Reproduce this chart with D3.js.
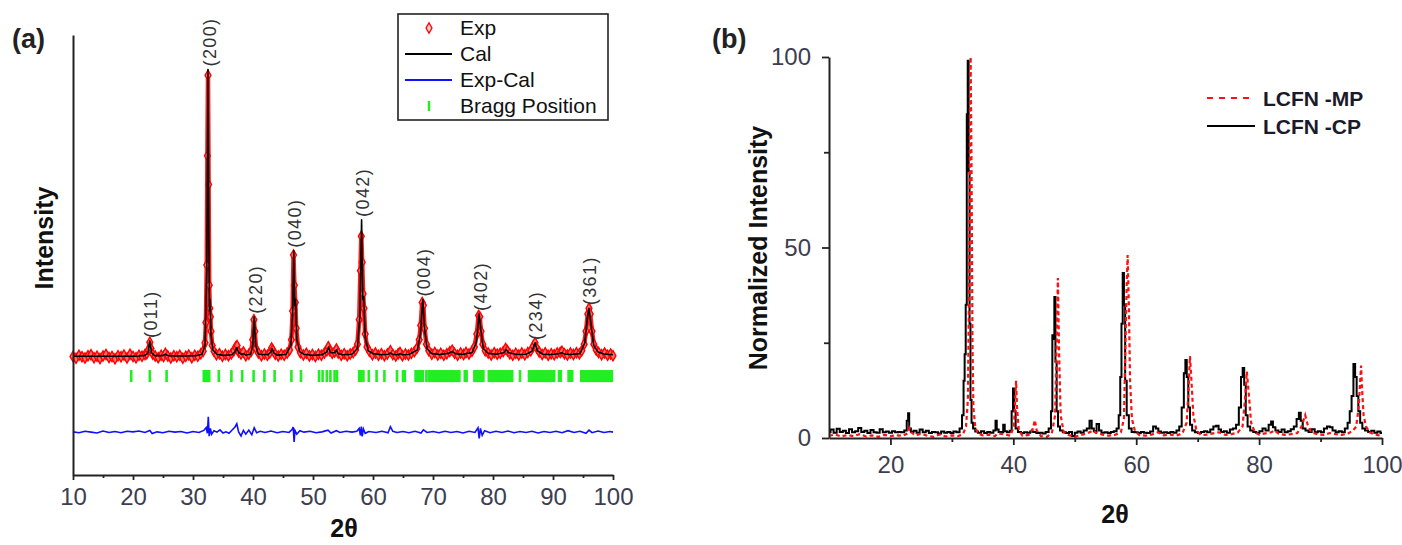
<!DOCTYPE html>
<html><head><meta charset="utf-8">
<script src="https://cdn.jsdelivr.net/npm/d3@7/dist/d3.min.js"></script>
<style>
html,body{margin:0;padding:0;background:#fff;}
svg{display:block;font-family:"Liberation Sans",Arial,sans-serif;}
</style></head>
<body>
<svg id="chart" width="1402" height="545"></svg>
<script>
// ---------- Panel (a): Rietveld refinement ----------
const calPts = [[10,0.3],[11,0.3],[12,0.3],[13,0.3],[14,0.3],[15,0.3],[16,0.3],[17,0.3],[18,0.3],[19,0.3],[20,0.3],[21,0.4],[22,0.6],[22.5,1.5],[22.8,5.6],[23.1,1.5],[23.6,0.5],[25,0.5],[25.4,1],[25.8,0.5],[27,0.4],[29,0.4],[30.5,0.5],[31.5,1],[32.0,4],[32.3,30],[32.5,100],[32.65,40],[32.75,16],[32.85,20],[33.0,8],[33.3,2.5],[34,1],[35,0.6],[36.5,0.8],[37.0,1.8],[37.3,3.3],[37.6,1.6],[38.1,0.9],[38.4,1.2],[38.8,0.7],[39.6,1],[39.95,4],[40.2,14],[40.45,4],[40.9,1],[42.5,0.8],[43.0,1.8],[43.2,3],[43.45,1.5],[44,0.7],[45.5,0.9],[46.3,4],[46.6,15],[46.8,37],[46.95,18],[47.1,20],[47.3,6],[47.8,1.8],[48.5,1],[50,0.6],[51.5,0.8],[52.3,1.8],[52.6,3.5],[52.9,1.5],[53.6,1.5],[53.9,2.5],[54.2,1.2],[55,0.8],[56.5,1],[57.4,3],[57.8,14],[58.1,47.7],[58.3,20],[58.45,21],[58.7,7],[59.2,2.2],[60,1.2],[61.5,0.8],[62.6,1],[62.9,1.5],[63.3,0.9],[64.2,0.8],[64.5,1.2],[64.9,0.8],[66,0.9],[67.4,2.5],[67.9,8],[68.3,20],[68.6,10],[69,3],[69.7,1.3],[71,0.9],[72.6,1.3],[73.2,2],[73.7,1.2],[75,0.9],[75.5,1.2],[76.5,1.5],[77.2,5],[77.7,15],[78.0,9],[78.4,3],[79.2,1.3],[80.5,1],[81.8,1.5],[82.2,2.6],[82.6,1.5],[84,0.9],[85.5,1],[86.5,2],[87.0,5],[87.4,2.2],[88.3,1],[90,0.9],[91.2,1.3],[91.5,1.5],[91.9,1.1],[93,0.9],[94.5,1.2],[95.3,5],[95.7,13],[96.0,17],[96.3,12],[96.8,4],[97.5,1.8],[98.5,1.1],[100,0.8]];

const expPts = [[10,0.2],[10.5,-0.4],[11,0.6],[11.5,0.1],[12,-0.3],[12.5,0.5],[13,0.8],[13.5,-0.2],[14,0.3],[14.5,-0.5],[15,0.4],[15.5,0.9],[16,-0.1],[16.5,0.2],[17,-0.6],[17.5,0.5],[18,0.1],[18.5,0.7],[19,-0.3],[19.5,1.0],[20,0.2],[20.5,-0.2],[21,0.6],[21.5,0.3],[22,0.9],[22.3,1.2],[22.55,2.5],[22.8,5.2],[23.0,3],[23.3,1.0],[23.7,0.4],[24.2,-0.2],[24.7,0.6],[25.1,0.2],[25.4,1.3],[25.8,0.4],[26.3,-0.3],[26.8,0.5],[27.3,0.1],[27.8,0.6],[28.3,-0.4],[28.8,0.3],[29.3,0.7],[29.8,-0.2],[30.3,0.6],[30.8,0.3],[31.3,1.2],[31.7,2],[32.0,5],[32.15,12],[32.3,32],[32.4,70],[32.5,98],[32.6,60],[32.7,25],[32.8,17],[32.9,14],[33.0,9],[33.2,4],[33.5,2],[33.9,0.8],[34.4,1.2],[34.9,0.3],[35.4,0.9],[35.9,0.5],[36.4,1.2],[36.8,2.2],[37.1,3.5],[37.35,4.0],[37.6,1.8],[38.0,1.1],[38.4,1.8],[38.8,0.5],[39.3,1.0],[39.7,2.0],[39.95,6],[40.15,13],[40.3,9],[40.5,3],[40.9,1.4],[41.4,0.5],[41.9,1.1],[42.4,0.6],[42.8,1.4],[43.1,3.2],[43.3,2.5],[43.7,1.0],[44.2,0.4],[44.7,1.0],[45.2,0.6],[45.7,1.4],[46.1,2.5],[46.4,6],[46.6,16],[46.75,35.5],[46.9,25],[47.05,19],[47.2,10],[47.5,3.5],[47.9,1.5],[48.4,0.7],[48.9,1.3],[49.4,0.4],[49.9,0.9],[50.4,0.2],[50.9,1.0],[51.4,0.6],[51.9,1.4],[52.3,2.2],[52.55,3.6],[52.8,2.2],[53.2,1.3],[53.6,1.8],[53.9,2.8],[54.2,1.4],[54.7,0.6],[55.2,1.2],[55.7,0.5],[56.2,1.1],[56.7,1.6],[57.1,2.5],[57.4,4.5],[57.7,13],[57.9,30],[58.05,42],[58.2,33],[58.35,22],[58.5,17],[58.7,8],[59.0,3.5],[59.4,2],[59.9,0.8],[60.4,1.4],[60.9,0.6],[61.4,1.2],[61.9,0.5],[62.4,1.1],[62.9,2.2],[63.3,0.9],[63.8,0.4],[64.2,1.2],[64.5,1.6],[64.9,0.5],[65.4,1.1],[65.9,0.7],[66.4,1.3],[66.9,1.9],[67.3,3],[67.7,6],[67.95,11],[68.2,19],[68.4,18],[68.6,10],[68.9,4.5],[69.3,2.2],[69.8,1.0],[70.3,1.6],[70.8,0.7],[71.3,1.3],[71.8,0.6],[72.3,1.2],[72.8,1.9],[73.2,2.4],[73.6,1.3],[74.1,0.6],[74.6,1.4],[75.1,0.9],[75.5,1.6],[76.0,1.1],[76.5,2],[76.9,3.5],[77.3,8],[77.6,14.5],[77.8,14],[78.0,9],[78.3,4.5],[78.7,2.2],[79.2,1.4],[79.7,0.7],[80.2,1.5],[80.7,1],[81.2,1.3],[81.7,1.9],[82.1,3],[82.4,2.2],[82.8,1.2],[83.3,0.6],[83.8,1.3],[84.3,0.7],[84.8,1.4],[85.3,0.8],[85.8,1.6],[86.3,2.2],[86.7,3.8],[87.0,5],[87.3,3.2],[87.7,1.8],[88.2,0.9],[88.7,1.5],[89.2,0.6],[89.7,1.2],[90.2,0.8],[90.7,1.4],[91.2,1.6],[91.5,2],[91.9,1.2],[92.4,0.7],[92.9,1.4],[93.4,0.9],[93.9,1.5],[94.4,1.2],[94.8,2.2],[95.2,4.5],[95.5,9],[95.8,15],[96.0,17],[96.2,15],[96.5,9],[96.8,4.5],[97.2,2.5],[97.6,1.6],[98.1,0.8],[98.6,1.4],[99.1,0.6],[99.6,1.1],[100,0.5]];

// Exp - Cal difference (plotted with its offset, as in the figure)
const diffPts = [[10,-26],[11,-26.3],[12,-25.8],[13,-26.1],[14,-26.4],[15,-25.7],[16,-26.2],[17,-25.9],[18,-26.3],[19,-25.8],[20,-26],[21,-25.7],[22,-26.2],[22.8,-25.5],[23.2,-26.6],[24,-26],[25,-26.3],[26,-25.8],[27,-26.1],[28,-25.9],[29,-26.4],[30,-25.9],[31,-26.2],[31.8,-25.5],[32.2,-24.5],[32.4,-26.5],[32.55,-20.8],[32.7,-27.5],[32.9,-24.8],[33.1,-26.8],[33.5,-25.6],[34,-26.1],[34.5,-25.3],[35,-26.4],[35.5,-26],[36,-26.5],[36.6,-25.2],[37.0,-24.3],[37.3,-23.2],[37.6,-26],[38.0,-27.4],[38.4,-25.5],[38.8,-26.8],[39.3,-25.4],[39.8,-27],[40.2,-24.6],[40.6,-26.3],[41.2,-25.8],[42,-26.2],[43,-25.7],[44,-26.3],[45,-25.9],[46,-26.2],[46.5,-25.2],[46.7,-24.3],[46.85,-29.5],[47.0,-25.5],[47.3,-26.8],[47.8,-25.6],[48.5,-26.1],[49.5,-25.8],[50.5,-26.3],[51.5,-26],[52.5,-25.4],[53,-26.4],[53.9,-25.6],[54.5,-26.2],[55.5,-25.8],[56.5,-26.1],[57.3,-25.8],[57.7,-24.8],[57.9,-27.2],[58.05,-24.2],[58.2,-27.6],[58.4,-25],[58.7,-26.5],[59.3,-25.9],[60.5,-26.2],[61.5,-25.8],[62.5,-26.3],[62.9,-24.2],[63.3,-25.8],[64,-26.2],[65,-25.9],[66,-26.3],[67,-25.8],[68,-26.4],[68.4,-25.3],[69,-26.2],[70,-25.9],[71,-26.3],[72,-25.8],[73,-26.2],[74,-25.9],[75,-26.4],[76,-25.8],[77,-26.2],[77.5,-24.6],[77.7,-28.3],[77.9,-24.8],[78.2,-27.2],[78.6,-25.6],[79.5,-26.3],[80.5,-25.8],[81.5,-26.2],[82.5,-25.7],[83.5,-26.3],[84.5,-25.9],[85.5,-26.2],[86.5,-25.8],[87.5,-26.4],[88.5,-25.9],[89.5,-26.2],[90.5,-25.8],[91.5,-26.3],[92.5,-25.6],[93.5,-26.2],[94.5,-25.8],[95.5,-26.5],[96,-25.4],[96.5,-26.3],[97.5,-25.7],[98.5,-26.2],[99.5,-25.9],[100,-26.1]];

const braggPos = [19.7,22.8,25.6,31.8,32.1,32.4,32.7,34.3,36.4,38.2,40.1,41.9,43.6,46.4,48.0,51.0,51.6,52.3,52.9,53.6,54.0,57.7,58.0,58.4,59.3,60.6,61.9,64.0,65.0,65.3,
67.1,67.4,67.7,68.0,68.3,68.9,69.3,69.6,69.9,70.2,70.5,70.8,71.1,71.4,71.7,72.0,72.3,72.6,72.9,73.2,73.5,73.8,74.1,74.4,75.3,75.6,
76.9,77.2,77.5,77.8,78.1,78.4,79.3,79.6,79.9,80.2,80.5,80.8,81.1,81.4,81.7,82.0,82.3,82.6,82.9,83.2,84.5,
86.0,86.3,86.6,86.9,87.2,87.5,87.8,88.1,88.4,88.7,89.0,89.3,89.6,89.9,90.2,91.0,91.3,92.6,92.9,93.2,
94.7,95.0,95.3,95.6,95.9,96.2,96.5,96.8,97.1,97.4,97.7,98.0,98.3,98.6,98.9,99.2,99.5,99.8];
const braggLevel = [-4.5, -8.7];

const hklLabels = ["(011)","(200)","(220)","(040)","(042)","(004)","(402)","(234)","(361)"];
const hklPos    = [22.8, 32.6, 40.2, 46.8, 58.1, 68.3, 77.7, 87.0, 96.0];
const hklTop    = [5.6, 100, 14, 37, 47.7, 20, 15, 4.9, 17];

const legendA = ["Exp","Cal","Exp-Cal","Bragg Position"];
const xTicksA = [10,20,30,40,50,60,70,80,90,100];
const xMinorA = [15,25,35,45,55,65,75,85,95];

// ---------- Panel (b): normalized patterns ----------
const cpPts = [[10,1.5],[10.5,2.2],[11,1.4],[11.5,2.4],[12,1.6],[12.5,1.9],[13,1.3],[13.5,2.3],[14,1.5],[14.5,1.8],[15,2.6],[15.5,1.6],[16,1.9],[16.5,1.3],[17,2.1],[17.5,1.5],[18,1.4],[18.5,2.3],[19,1.5],[19.5,1.7],[20,1.4],[20.5,1.8],[21,1.5],[21.5,1.6],[22,1.5],[22.5,2],[22.8,4.5],[22.95,6.5],[23.15,2.5],[23.5,1.6],[24,1.9],[24.5,1.4],[25,2.2],[25.5,1.5],[26,1.9],[26.5,1.3],[27,1.6],[27.5,1.5],[28,1.2],[28.5,1.7],[29,1.4],[29.5,1.6],[30,1.3],[30.5,1.7],[31,1.5],[31.5,2.5],[31.8,6],[32.0,15],[32.15,22],[32.35,35],[32.5,85],[32.65,99],[32.8,70],[32.95,30],[33.1,10],[33.3,4],[33.6,2.5],[34,1.7],[34.5,1.4],[35,1.8],[35.5,1.3],[36,1.6],[36.5,1.4],[37,2],[37.2,4.5],[37.4,2.2],[37.8,1.6],[38.2,1.5],[38.5,3.5],[38.7,1.8],[39.2,1.5],[39.6,1.9],[39.85,7],[40.05,13],[40.25,7],[40.5,2.5],[41,1.6],[41.5,1.3],[42,1.5],[42.5,1.4],[43,1.7],[43.5,1.6],[44,1.3],[44.5,1.4],[45,1.2],[45.5,1.6],[46,2.5],[46.25,7],[46.45,27],[46.6,26],[46.75,37],[46.95,20],[47.15,7],[47.4,3],[47.8,2],[48.3,1.5],[48.8,1.3],[49.3,1.6],[49.8,0.5],[50.2,1.4],[50.7,1.7],[51.2,1.4],[51.7,2],[52.2,2.5],[52.6,4.5],[52.9,2.5],[53.3,1.8],[53.8,3.7],[54.1,2],[54.6,1.4],[55.1,1.5],[55.6,1.3],[56.1,1.6],[56.6,1.8],[57,2.5],[57.3,6],[57.5,16],[57.7,30],[57.9,43.3],[58.1,35],[58.3,15],[58.6,6],[59,2.5],[59.5,1.6],[60,1.5],[60.5,1.3],[61,1.6],[61.5,1.4],[62,1.3],[62.5,1.7],[63,3],[63.4,2.5],[63.8,1.7],[64.3,1.4],[64.8,1.5],[65.3,1.3],[65.8,1.6],[66.3,1.4],[66.8,2],[67.2,3],[67.6,8],[67.9,17],[68.1,20.5],[68.35,16],[68.6,8],[68.9,3.5],[69.3,2],[69.8,1.5],[70.3,1.3],[70.8,1.6],[71.3,1.8],[71.8,1.5],[72.3,2.2],[72.8,3],[73.2,3.2],[73.6,2.2],[74,1.6],[74.5,1.8],[75,1.4],[75.5,2.2],[76,2.5],[76.5,3.5],[76.9,8],[77.2,16],[77.45,18.4],[77.7,14],[77.95,6],[78.3,3],[78.8,2],[79.3,1.6],[79.8,1.3],[80.3,1.8],[80.8,2.5],[81.3,2],[81.8,3.5],[82.1,4.3],[82.4,2.8],[82.9,2],[83.4,1.6],[83.9,2.2],[84.4,1.5],[84.9,1.8],[85.4,2.3],[85.9,3],[86.3,5],[86.65,6.6],[86.9,4.5],[87.3,2.5],[87.8,2],[88.3,1.6],[88.8,2.3],[89.3,1.5],[89.8,1.8],[90.3,1.5],[90.8,2.5],[91.3,3],[91.7,2.8],[92.2,2],[92.7,1.5],[93.2,1.8],[93.7,1.5],[94.2,2.5],[94.6,4],[94.9,7],[95.2,11],[95.5,19.4],[95.75,16],[96.0,11],[96.3,7],[96.6,4],[97,2.5],[97.5,2],[98,1.6],[98.5,1.9],[99,1.4],[99.5,1.7],[100,1.3]];

const mpPts = [[10,0.6],[11,0.9],[12,0.4],[13,0.8],[14,0.5],[15,1.0],[16,0.4],[17,0.7],[18,0.3],[19,0.8],[20,0.5],[21,0.7],[22,0.6],[22.8,1.2],[23.1,2.6],[23.4,1.5],[24,0.7],[25,1.1],[26,0.6],[27,0.3],[28,0.9],[29,0.4],[30,0.7],[31,0.5],[31.8,1],[32.3,3],[32.6,10],[32.8,40],[32.95,80],[33.05,100],[33.2,70],[33.35,25],[33.5,8],[33.8,3],[34.2,1.2],[35,0.7],[36,0.9],[37,0.5],[37.5,1.2],[38.5,1],[39.5,0.6],[40.1,3],[40.3,10],[40.45,15],[40.6,8],[40.9,2],[41.5,0.6],[42.5,0.8],[43.2,2.5],[43.5,4.7],[43.8,2],[44.5,0.5],[45.5,0.3],[46.3,1.5],[46.8,6],[47.05,25],[47.25,42],[47.45,22],[47.7,6],[48.2,1.5],[49,0.8],[50,0.3],[51,0.8],[52,1.2],[53,2],[53.4,1.4],[54.5,0.9],[55.5,0.6],[56.5,0.8],[57.5,1.5],[58,5],[58.25,25],[58.45,40],[58.6,48],[58.8,35],[59,15],[59.3,5],[59.8,1.8],[60.5,0.8],[61.5,0.6],[62.5,0.9],[63.5,1.5],[64.5,0.7],[65.5,0.9],[66.5,0.6],[67.5,1.2],[68.2,4],[68.5,12],[68.75,21.5],[68.95,16],[69.3,6],[69.8,2],[70.5,0.8],[71.5,0.9],[72.5,1.2],[73.5,1.5],[74.5,0.8],[75.5,1],[76.5,1.4],[77.3,3],[77.7,10],[78.0,17.4],[78.3,12],[78.7,4],[79.3,1.5],[80,0.9],[81,1.2],[82,1.5],[82.5,2],[83.2,1.1],[84.2,0.8],[85.2,1],[86.2,1.3],[86.9,3],[87.5,6],[87.9,3.5],[88.5,1.5],[89.5,1],[90.5,0.8],[91.5,1.3],[92.5,1],[93.5,0.8],[94.5,1.2],[95.3,2],[95.8,3],[96.2,8],[96.45,15],[96.6,19],[96.75,13],[97.0,6],[97.4,3],[98,1.5],[98.8,0.9],[99.5,0.7],[100,0.5]];

const legendB = ["LCFN -MP","LCFN -CP"];
const xTicksB = [20,40,60,80,100];
const xMinorB = [30,50,70,90];
const yTicksB = [0,50,100];
const yMinorB = [25,75];

// ================= drawing =================
const svg = d3.select("#chart");
const tickFill = "#3d3d4f";

// ---- Panel (a)
const xA = d3.scaleLinear().domain([10,100]).range([73,613]);
const yA = d3.scaleLinear().domain([-41,112]).range([475,35]);
const gA = svg.append("g");

// Bragg ticks
gA.append("g").selectAll("line").data(braggPos).join("line")
  .attr("x1", d=>xA(d)).attr("x2", d=>xA(d))
  .attr("y1", yA(braggLevel[0])).attr("y2", yA(braggLevel[1]))
  .attr("stroke","#22ee22").attr("stroke-width",2.6);

// difference curve
gA.append("path").datum(diffPts)
  .attr("d", d3.line().x(d=>xA(d[0])).y(d=>yA(d[1])))
  .attr("fill","none").attr("stroke","#1010ff").attr("stroke-width",1.6);

// exp markers
const diamond = d3.symbol().type(d3.symbolDiamond).size(30);
gA.append("path").datum(expPts)
  .attr("d", d3.line().x(d=>xA(d[0])).y(d=>yA(d[1])))
  .attr("fill","none").attr("stroke","#ff1a1a").attr("stroke-width",4.5).attr("stroke-linejoin","round");
gA.append("g").selectAll("path").data(expPts).join("path")
  .attr("d", diamond)
  .attr("transform", d=>`translate(${xA(d[0])},${yA(d[1])})`)
  .attr("fill","#ff7070").attr("stroke","#ff0000").attr("stroke-width",1.4);

// calc curve
gA.append("path").datum(calPts)
  .attr("d", d3.line().x(d=>xA(d[0])).y(d=>yA(d[1])))
  .attr("fill","none").attr("stroke","#000").attr("stroke-width",1.6).attr("stroke-linejoin","round");

// hkl labels
gA.append("g").selectAll("text").data(hklLabels).join("text")
  .attr("transform", (d,i)=>`translate(${xA(hklPos[i])+1},${yA(hklTop[i])-3}) rotate(-90)`)
  .attr("dy","0.36em").attr("text-anchor","start")
  .attr("font-size",18).attr("letter-spacing","1.4px").attr("fill","#333")
  .text(d=>d);

// axes
const axA = gA.append("g").attr("transform",`translate(0,${yA(-41)})`)
  .call(d3.axisBottom(xA).tickValues(xTicksA).tickSize(5).tickPadding(8).tickSizeOuter(0).tickFormat(d3.format("d")));
gA.append("g").attr("transform",`translate(0,${yA(-41)})`)
  .call(d3.axisBottom(xA).tickValues(xMinorA).tickSize(3).tickFormat("").tickSizeOuter(0))
  .call(g=>g.select(".domain").remove());
const ayA = gA.append("g").attr("transform",`translate(${xA(10)},0)`)
  .call(d3.axisLeft(yA).tickValues([]).tickSizeOuter(0));
gA.selectAll(".domain").attr("stroke","#222").attr("stroke-width",2);
gA.selectAll(".tick line").attr("stroke","#222").attr("stroke-width",1.8);
axA.selectAll(".tick text").attr("font-size",24).attr("fill",tickFill).attr("font-family","Liberation Sans, Arial");

// titles
svg.append("text").attr("x",12).attr("y",48).attr("font-size",27).attr("font-weight","bold").attr("fill","#222").text("(a)");
svg.append("text").attr("transform","translate(53,238) rotate(-90)").attr("text-anchor","middle")
  .attr("font-size",25).attr("font-weight","bold").attr("fill","#111").text("Intensity");
svg.append("text").attr("x",344).attr("y",537).attr("text-anchor","middle")
  .attr("font-size",25).attr("font-weight","bold").attr("fill","#111").text("2θ");

// legend (a)
const lgA = svg.append("g");
lgA.append("rect").attr("x",398).attr("y",14).attr("width",210).attr("height",106)
  .attr("fill","#fff").attr("stroke","#222").attr("stroke-width",1.6);
const lgY = [28,54,80,106];
lgA.append("path").attr("d",diamond).attr("transform",`translate(429,${lgY[0]})`)
  .attr("fill","#ffd0d0").attr("stroke","#ff0000").attr("stroke-width",1.3);
lgA.append("line").attr("x1",405).attr("x2",452).attr("y1",lgY[1]).attr("y2",lgY[1]).attr("stroke","#000").attr("stroke-width",1.8);
lgA.append("line").attr("x1",405).attr("x2",452).attr("y1",lgY[2]).attr("y2",lgY[2]).attr("stroke","#1010ff").attr("stroke-width",1.8);
lgA.append("line").attr("x1",429).attr("x2",429).attr("y1",lgY[3]-5).attr("y2",lgY[3]+5).attr("stroke","#22ee22").attr("stroke-width",2.5);
lgA.selectAll("text").data(legendA).join("text")
  .attr("x",460).attr("y",(d,i)=>lgY[i]).attr("dy","0.35em")
  .attr("font-size",21).attr("fill","#111").text(d=>d);

// ---- Panel (b)
const xB = d3.scaleLinear().domain([10,100]).range([829,1382]);
const yB = d3.scaleLinear().domain([0,100]).range([438,57]);
const gB = svg.append("g");

gB.append("path").datum(cpPts)
  .attr("d", d3.line().curve(d3.curveStep).x(d=>xB(d[0])).y(d=>yB(d[1])))
  .attr("fill","none").attr("stroke","#000").attr("stroke-width",2);
gB.append("path").datum(mpPts)
  .attr("d", d3.line().x(d=>xB(d[0])).y(d=>yB(d[1])))
  .attr("fill","none").attr("stroke","#ff1010").attr("stroke-width",2.2).attr("stroke-dasharray","4,3");

const axB = gB.append("g").attr("transform",`translate(0,${yB(0)})`)
  .call(d3.axisBottom(xB).tickValues(xTicksB).tickSize(7).tickPadding(11).tickSizeOuter(0).tickFormat(d3.format("d")));
gB.append("g").attr("transform",`translate(0,${yB(0)})`)
  .call(d3.axisBottom(xB).tickValues(xMinorB).tickSize(4).tickFormat("").tickSizeOuter(0))
  .call(g=>g.select(".domain").remove());
const ayB = gB.append("g").attr("transform",`translate(${xB(10)},0)`)
  .call(d3.axisLeft(yB).tickValues(yTicksB).tickSize(7).tickPadding(11).tickSizeOuter(0).tickFormat(d3.format("d")));
gB.append("g").attr("transform",`translate(${xB(10)},0)`)
  .call(d3.axisLeft(yB).tickValues(yMinorB).tickSize(5).tickFormat("").tickSizeOuter(0))
  .call(g=>g.select(".domain").remove());
gB.selectAll(".domain").attr("stroke","#222").attr("stroke-width",2);
gB.selectAll(".tick line").attr("stroke","#222").attr("stroke-width",1.8);
gB.selectAll(".tick text").attr("font-size",24).attr("fill",tickFill).attr("font-family","Liberation Sans, Arial");

svg.append("text").attr("x",712).attr("y",48).attr("font-size",27).attr("font-weight","bold").attr("fill","#222").text("(b)");
svg.append("text").attr("transform","translate(767,248) rotate(-90)").attr("text-anchor","middle")
  .attr("font-size",25).attr("font-weight","bold").attr("fill","#111").text("Normalized Intensity");
svg.append("text").attr("x",1115).attr("y",523).attr("text-anchor","middle")
  .attr("font-size",25).attr("font-weight","bold").attr("fill","#111").text("2θ");

// legend (b)
const lgB = svg.append("g");
const lgBY = [98,126];
lgB.append("line").attr("x1",1207).attr("x2",1253).attr("y1",lgBY[0]).attr("y2",lgBY[0])
  .attr("stroke","#ff1010").attr("stroke-width",2.2).attr("stroke-dasharray","6,6");
lgB.append("line").attr("x1",1207).attr("x2",1255).attr("y1",lgBY[1]).attr("y2",lgBY[1])
  .attr("stroke","#000").attr("stroke-width",2);
lgB.selectAll("text").data(legendB).join("text")
  .attr("x",1263).attr("y",(d,i)=>lgBY[i]).attr("dy","0.36em")
  .attr("font-size",21).attr("font-weight","bold").attr("fill","#1a1a2a").text(d=>d);
</script>
</body></html>
